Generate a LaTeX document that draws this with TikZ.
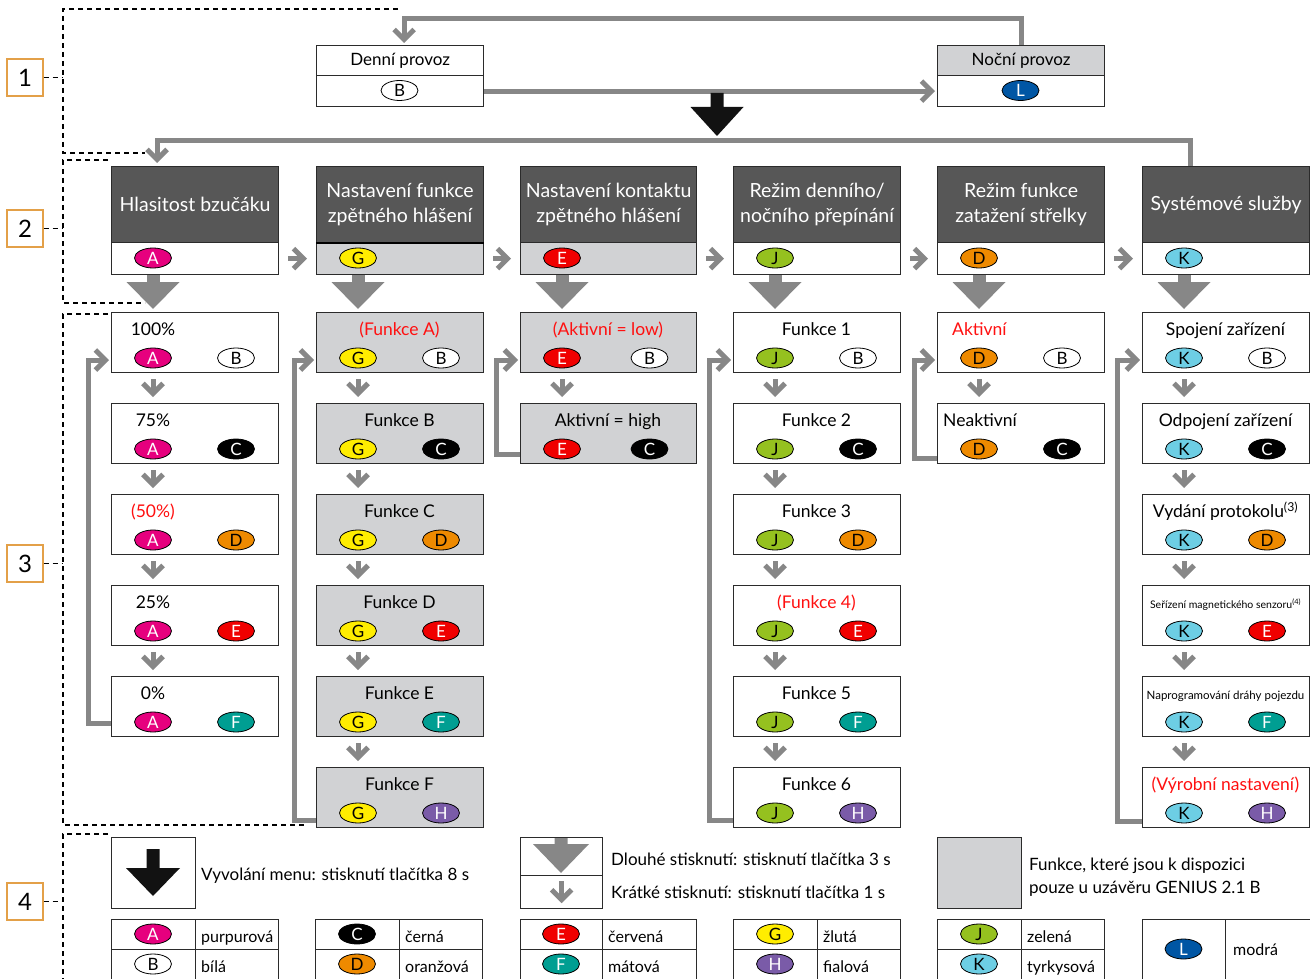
\documentclass[tikz,border=0pt]{standalone}
\usepackage{fontspec}
\setmainfont{Lato}
\usetikzlibrary{arrows.meta,calc,shapes.geometric}
\definecolor{agray}{HTML}{878787}
\definecolor{hdark}{HTML}{575757}
\definecolor{lgray}{HTML}{D1D2D4}
\definecolor{bord}{HTML}{2B2B2B}
\definecolor{cA}{HTML}{E6007E}
\definecolor{cD}{HTML}{EE8A00}
\definecolor{cE}{HTML}{F00000}
\definecolor{cF}{HTML}{009E92}
\definecolor{cG}{HTML}{FFED00}
\definecolor{cH}{HTML}{7A5BA8}
\definecolor{cJ}{HTML}{95C11F}
\definecolor{cK}{HTML}{6DCEE4}
\definecolor{cL}{HTML}{0056A4}
\definecolor{lblor}{HTML}{E3A048}
\definecolor{tred}{HTML}{FF1010}
\newcommand\myfs[1]{\fontsize{#1}{#1}\selectfont}
\tikzset{
  cell/.style={draw=bord, line width=1.2pt, anchor=north west, inner sep=0pt, minimum height=60pt},
  ttl/.style={anchor=base, inner sep=0pt, font=\myfs{17.5}},
  code/.style={ellipse, draw=black, line width=0.8pt, minimum width=37pt, minimum height=20pt, inner sep=0pt, font=\myfs{17}},
  codeA/.style={code, fill=cA, text=white},
  codeB/.style={code, fill=white, text=black},
  codeC/.style={code, fill=black, text=white},
  codeD/.style={code, fill=cD, text=black},
  codeE/.style={code, fill=cE, text=white},
  codeF/.style={code, fill=cF, text=white},
  codeG/.style={code, fill=cG, text=black},
  codeH/.style={code, fill=cH, text=white},
  codeJ/.style={code, fill=cJ, text=black},
  codeK/.style={code, fill=cK, text=black},
  codeL/.style={code, fill=cL, text=white},
  hbox/.style={draw=bord, line width=1.2pt, fill=hdark, anchor=north west, inner sep=0pt, minimum height=76pt, text=white, align=center, font=\fontsize{19.5}{25}\selectfont},
  sbox/.style={draw=bord, line width=1.2pt, anchor=north west, inner sep=0pt, minimum height=32pt},
  garrow/.style={draw=agray, line width=5pt, -{Straight Barb[length=10pt,width=20pt]}},
  bigarr/.style={draw=agray, line width=13pt, -{Triangle[length=27pt,width=53pt,line width=0pt]}},
  dsh/.style={draw=black, line width=1.1pt, dash pattern=on 5pt off 4pt},
  lbl/.style={draw=lblor, line width=1.2pt, minimum width=36pt, minimum height=37pt, inner sep=0pt, font=\myfs{24}},
  tcell/.style={draw=bord, line width=1.2pt, anchor=north west, inner sep=0pt},
  lgt/.style={anchor=base west, inner sep=0pt, font=\myfs{17}},
  lgw/.style={anchor=base west, inner sep=0pt, font=\myfs{16}},
}
% level-3 box: name, x, y, width, fill, title x, title, left code, right code
\newcommand\lvl[9]{%
  \node[cell, fill=#5, minimum width=#4pt] (#1) at (#2,#3) {};
  \node[ttl] (#1t) at (#6,#3+23.5) {#7};
  \node[code#8] (#1l) at (#2+42,#3+46) {#8};
  \node[code#9] (#1r) at (#2+#4/2+41.5,#3+46) {#9};
}
% header: index, x, width, title, strip fill, code
\newcommand\hdr[6]{%
  \node[hbox, minimum width=#3pt] (h#1) at (#2,166) {#4};
  \node[sbox, fill=#5, minimum width=#3pt] (s#1) at (#2,242) {};
  \node[code#6] (s#1c) at (#2+42,258) {#6};
}
\newcommand\sdown[3]{\draw[garrow] ($(#1.south -| #3)+(0,6)$) -- ($(#2.north -| #3)+(0,-6)$);}
% legend table: name, x, split, end, code1, word1, code2, word2
\newcommand\ctab[8]{%
  \node[tcell, minimum width=#3pt-#2pt, minimum height=30pt] (#1a) at (#2,919) {};
  \node[tcell, minimum width=#4pt-#3pt, minimum height=30pt] (#1b) at (#3,919) {};
  \node[tcell, minimum width=#3pt-#2pt, minimum height=40pt] (#1c) at (#2,949) {};
  \node[tcell, minimum width=#4pt-#3pt, minimum height=40pt] (#1d) at (#3,949) {};
  \node[code#5] (#1e) at ({(#2+#3)/2},934) {#5};
  \node[code#7] (#1f) at ({(#2+#3)/2},964) {#7};
  \node[lgw] (#1g) at (#3+6,942.5) {#6};
  \node[lgw] (#1h) at (#3+6,972) {#8};
}
\begin{document}
\begin{tikzpicture}[x=1pt,y=-1pt]
\useasboundingbox (0,0) rectangle (1310,979);
\clip (0,0) rectangle (1310,979);

% ---------- level 1 ----------
\node[sbox, minimum width=167pt, minimum height=30pt, font=\myfs{17}] (denT) at (316,45) {Denní provoz};
\node[sbox, minimum width=167pt, minimum height=31pt] (denB) at (316,75) {};
\node[codeB] (denC) at (399.5,90.5) {B};
\node[sbox, fill=lgray, minimum width=167pt, minimum height=30pt, font=\myfs{17}] (nocT) at (937,45) {Noční provoz};
\node[sbox, minimum width=167pt, minimum height=31pt] (nocB) at (937,75) {};
\node[codeL] (nocC) at (1020.5,90.5) {L};
\draw[garrow] (nocT.north) -- ++(0,-26) -| ($(denT.north)+(4,-2)$);
\draw[garrow] (denB.east) -- ($(nocB.west)+(-2,0)$);
\fill[black!93] (710.5,93) -- (723.5,93) -- (723.5,107) -- (743.5,107) -- (717,136) -- (690.5,107) -- (710.5,107) -- cycle;

% ---------- level 2 ----------
\hdr{1}{111}{167}{Hlasitost bzučáku}{white}{A}
\hdr{2}{316}{167}{Nastavení funkce\\zpětného hlášení}{lgray}{G}
\hdr{3}{520}{176}{Nastavení kontaktu\\zpětného hlášení}{lgray}{E}
\hdr{4}{733}{167}{Režim denního/\\nočního přepínání}{white}{J}
\hdr{5}{937}{167}{Režim funkce\\zatažení střelky}{white}{D}
\hdr{6}{1142}{167}{Systémové služby}{white}{K}
\draw[black, line width=2.5pt] (h2.south west) -- (h2.south east);
\draw[garrow] ($(h6.north west)+(48,0)$) -- ++(0,-25) -| ($(h1.north west)+(46,-3)$);
\foreach \a/\b in {1/2,2/3,3/4,4/5,5/6}{
  \draw[garrow] ($(s\a.east)+(9,0)$) -- ($(s\b.west)+(-9,0)$);
}

% ---------- level 3 ----------
\lvl{c1b1}{111}{312}{167}{white}{153}{100\%}{A}{B}
\lvl{c1b2}{111}{403}{167}{white}{153}{75\%}{A}{C}
\lvl{c1b3}{111}{494}{167}{white}{153}{\color{tred}(50\%)}{A}{D}
\lvl{c1b4}{111}{585}{167}{white}{153}{25\%}{A}{E}
\lvl{c1b5}{111}{676}{167}{white}{153}{0\%}{A}{F}

\lvl{c2b1}{316}{312}{167}{lgray}{399.5}{\color{tred}(Funkce A)}{G}{B}
\lvl{c2b2}{316}{403}{167}{lgray}{399.5}{Funkce B}{G}{C}
\lvl{c2b3}{316}{494}{167}{lgray}{399.5}{Funkce C}{G}{D}
\lvl{c2b4}{316}{585}{167}{lgray}{399.5}{Funkce D}{G}{E}
\lvl{c2b5}{316}{676}{167}{lgray}{399.5}{Funkce E}{G}{F}
\lvl{c2b6}{316}{767}{167}{lgray}{399.5}{Funkce F}{G}{H}

\lvl{c3b1}{520}{312}{176}{lgray}{608}{\color{tred}(Aktivní = low)}{E}{B}
\lvl{c3b2}{520}{403}{176}{lgray}{608}{Aktivní = high}{E}{C}

\lvl{c4b1}{733}{312}{167}{white}{816.5}{Funkce 1}{J}{B}
\lvl{c4b2}{733}{403}{167}{white}{816.5}{Funkce 2}{J}{C}
\lvl{c4b3}{733}{494}{167}{white}{816.5}{Funkce 3}{J}{D}
\lvl{c4b4}{733}{585}{167}{white}{816.5}{\color{tred}(Funkce 4)}{J}{E}
\lvl{c4b5}{733}{676}{167}{white}{816.5}{Funkce 5}{J}{F}
\lvl{c4b6}{733}{767}{167}{white}{816.5}{Funkce 6}{J}{H}

\begin{scope}[ttl/.append style={anchor=base west}]
\lvl{c5b1}{937}{312}{167}{white}{952}{\color{tred}Aktivní}{D}{B}
\lvl{c5b2}{937}{403}{167}{white}{943}{Neaktivní}{D}{C}
\end{scope}

\lvl{c6b1}{1142}{312}{167}{white}{1225.5}{Spojení zařízení}{K}{B}
\lvl{c6b2}{1142}{403}{167}{white}{1225.5}{Odpojení zařízení}{K}{C}
\lvl{c6b3}{1142}{494}{167}{white}{1225.5}{Vydání protokolu\textsuperscript{(3)}}{K}{D}
\lvl{c6b4}{1142}{585}{167}{white}{1225.5}{\myfs{10.5}Seřízení magnetického senzoru\textsuperscript{(4)}}{K}{E}
\lvl{c6b5}{1142}{676}{167}{white}{1225.5}{\myfs{11.5}Naprogramování dráhy pojezdu}{K}{F}
\lvl{c6b6}{1142}{767}{167}{white}{1225.5}{\color{tred}(Výrobní nastavení)}{K}{H}

% long-press arrows
\foreach \i in {1,...,6}{
  \draw[bigarr] (s\i c |- s\i.south) -- ($(s\i c |- c\i b1.north)+(0,-3)$);
}
% short-press arrows
\sdown{c1b1}{c1b2}{c1b1l}\sdown{c1b2}{c1b3}{c1b1l}\sdown{c1b3}{c1b4}{c1b1l}\sdown{c1b4}{c1b5}{c1b1l}
\sdown{c2b1}{c2b2}{c2b1l}\sdown{c2b2}{c2b3}{c2b1l}\sdown{c2b3}{c2b4}{c2b1l}\sdown{c2b4}{c2b5}{c2b1l}\sdown{c2b5}{c2b6}{c2b1l}
\sdown{c3b1}{c3b2}{c3b1l}
\sdown{c4b1}{c4b2}{c4b1l}\sdown{c4b2}{c4b3}{c4b1l}\sdown{c4b3}{c4b4}{c4b1l}\sdown{c4b4}{c4b5}{c4b1l}\sdown{c4b5}{c4b6}{c4b1l}
\sdown{c5b1}{c5b2}{c5b1l}
\sdown{c6b1}{c6b2}{c6b1l}\sdown{c6b2}{c6b3}{c6b1l}\sdown{c6b3}{c6b4}{c6b1l}\sdown{c6b4}{c6b5}{c6b1l}\sdown{c6b5}{c6b6}{c6b1l}
% loop-backs
\draw[garrow] ($(c1b5.south west)+(0,-14)$) -- ++(-23,0) |- ($(c1b1.north west)+(-2,48)$);
\draw[garrow] ($(c2b6.south west)+(0,-8)$) -- ++(-22,0) |- ($(c2b1.north west)+(-2,48)$);
\draw[garrow] ($(c3b2.south west)+(0,-10)$) -- ++(-24,0) |- ($(c3b1.north west)+(-2,48)$);
\draw[garrow] ($(c4b6.south west)+(0,-8)$) -- ++(-23.5,0) |- ($(c4b1.north west)+(-2,48)$);
\draw[garrow] ($(c5b2.south west)+(0,-6)$) -- ++(-23,0) |- ($(c5b1.north west)+(-2,48)$);
\draw[garrow] ($(c6b6.south west)+(0,-7)$) -- ++(-24.5,0) |- ($(c6b1.north west)+(-2,48)$);

% ---------- group brackets ----------
\node[lbl] (L1) at (25,77.5) {1};
\node[lbl] (L2) at (25,228.5) {2};
\node[lbl] (L3) at (25,563.5) {3};
\node[lbl] (L4) at (25,901.5) {4};
\coordinate (g1) at (63,9);
\draw[dsh] (398,9) -- (g1) -- (63,153) -- (145,153);
\draw[dsh] (108,160) -- (63,160) -- (63,303) -- (145,303);
\draw[dsh] (108,314) -- (63,314) -- (63,825) -- (305,825);
\draw[dsh] (108,834) -- (63,834) -- (63,990);
\foreach \k in {1,2,3,4}{\draw[dsh] (L\k.east) -- (L\k.east -| g1);}

% ---------- legend ----------
\node[tcell, minimum width=84pt, minimum height=71pt] (lgA) at (111,837) {};
\fill[black!93] (146.5,849) -- (159.5,849) -- (159.5,868) -- (180,868) -- (153,896) -- (126,868) -- (146.5,868) -- cycle;
\node[lgt] (lgAt) at (201,880) {Vyvolání menu: stisknutí tlačítka 8 s};
\node[tcell, minimum width=82pt, minimum height=38pt] (lgB1) at (520,837) {};
\node[tcell, minimum width=82pt, minimum height=33pt] (lgB2) at (520,875) {};
\fill[agray] (554.5,838) -- (567.5,838) -- (567.5,844) -- (589,844) -- (561,873) -- (533,844) -- (554.5,844) -- cycle;
\draw[garrow] ($(lgB2.north)+(0,6)$) -- ($(lgB2.south)+(0,-6)$);
\node[lgt] (lgBt1) at (611,865) {Dlouhé stisknutí: stisknutí tlačítka 3 s};
\node[lgt] (lgBt2) at (611,898) {Krátké stisknutí: stisknutí tlačítka 1 s};
\node[tcell, fill=lgray, minimum width=84pt, minimum height=71pt] (lgC) at (937,837) {};
\node[lgt] (lgCt1) at (1029,870) {Funkce, které jsou k dispozici};
\node[lgt] (lgCt2) at (1029,893) {pouze u uzávěru GENIUS 2.1 B};

\ctab{t1}{111}{195}{278}{A}{purpurová}{B}{bílá}
\ctab{t2}{315}{399}{482}{C}{černá}{D}{oranžová}
\ctab{t3}{520}{602}{696}{E}{červená}{F}{mátová}
\ctab{t4}{733}{817}{900}{G}{žlutá}{H}{fialová}
\ctab{t5}{937}{1021}{1104}{J}{zelená}{K}{tyrkysová}
\node[tcell, minimum width=83pt, minimum height=70pt] (t6a) at (1142,919) {};
\node[tcell, minimum width=90pt, minimum height=70pt] (t6b) at (1225,919) {};
\node[codeL] (t6e) at (1183.5,949) {L};
\node[lgw] (t6g) at (1233,955) {modrá};
\end{tikzpicture}
\end{document}
